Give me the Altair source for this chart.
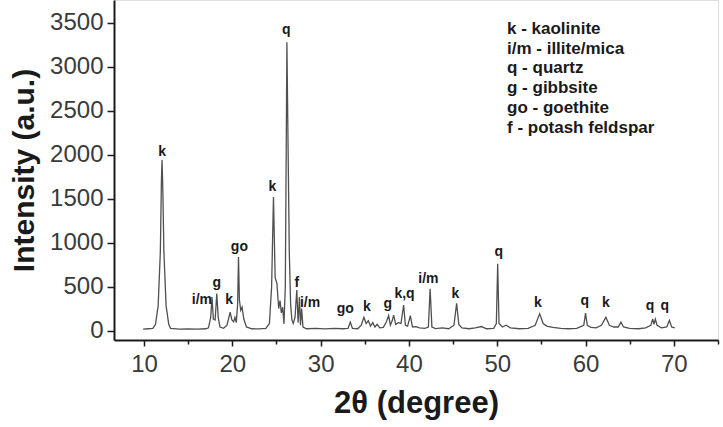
import altair as alt
import pandas as pd

# XRD pattern: 2-theta positions (degrees) and measured intensity (a.u.)
two_theta = [
    9.9, 10.5, 11.0, 11.3, 11.6, 11.85, 11.97, 12.04, 12.12, 12.25, 12.5, 12.8,
    13.0, 14.0, 15.0, 16.0, 17.0, 17.3, 17.55, 17.7, 17.85, 18.05, 18.24, 18.4,
    18.6, 19.0, 19.4, 19.75, 19.95, 20.15, 20.3, 20.45, 20.6, 20.7, 20.8, 20.95,
    21.1, 21.3, 21.6, 22.2, 23.0, 23.8, 24.2, 24.45, 24.66, 24.85, 25.05, 25.25,
    25.4, 25.55, 25.7, 25.85, 26.0, 26.1, 26.18, 26.3, 26.45, 26.6, 26.75, 26.9,
    27.1, 27.3, 27.45, 27.6, 27.72, 27.85, 28.0, 28.4, 29.5, 30.5, 31.5, 32.5,
    33.1, 33.36, 33.6, 34.2, 34.6, 34.9, 35.15, 35.4, 35.65, 35.9, 36.15, 36.4,
    36.7, 37.1, 37.45, 37.7, 37.9, 38.1, 38.27, 38.5, 38.8, 39.1, 39.4, 39.6,
    39.85, 40.16, 40.4, 40.8, 41.2, 41.8, 42.2, 42.4, 42.6, 43.0, 43.8, 44.5,
    45.1, 45.4, 45.65, 46.0, 46.8, 47.5, 48.2, 48.8, 49.6, 49.9, 50.05, 50.2,
    50.6, 51.0, 51.5, 52.5, 53.5, 54.3, 54.8, 55.2, 55.6, 56.3, 57.2, 58.0,
    59.0, 59.8, 60.0, 60.2, 60.6, 61.2, 61.8, 62.3, 62.7, 63.2, 63.7, 64.0,
    64.3, 65.0, 66.0, 66.8, 67.4, 67.6, 67.75, 67.9, 68.1, 68.6, 69.2, 69.5,
    69.75, 70.1,
]
intensity = [
    15, 20, 25, 70, 280, 900, 1700, 1940, 1650, 900, 280, 70,
    25, 15, 18, 15, 20, 30, 150, 380, 130, 120, 420, 150,
    40, 25, 60, 210, 120, 100, 150, 90, 300, 835, 350, 230,
    265, 130, 40, 20, 18, 25, 80, 500, 1520, 600, 535, 250,
    340, 200, 265, 76, 500, 2000, 3280, 2200, 900, 300, 120, 80,
    150, 460, 90, 380, 60, 250, 40, 20, 25, 18, 25, 20,
    25, 95, 25, 20, 60, 150, 80, 110, 50, 90, 40, 70,
    30, 35, 100, 170, 60, 110, 175, 70, 90, 80, 290, 60,
    50, 170, 40, 45, 30, 25, 40, 475, 40, 22, 30, 20,
    60, 310, 70, 30, 20, 30, 45, 20, 25, 80, 760, 80,
    40, 60, 30, 20, 25, 60, 190, 80, 50, 35, 25, 20,
    25, 60, 197, 60, 35, 30, 60, 150, 60, 40, 40, 95,
    40, 25, 20, 30, 60, 133, 70, 130, 60, 30, 40, 115,
    40, 30,
]

# Phase labels placed above their peaks
peak_labels = ["k", "i/m", "g", "k", "go", "k", "q", "f", "i/m", "go", "k", "g",
               "k,q", "i/m", "k", "q", "k", "q", "k", "q", "q"]
label_theta = [12.04, 16.55, 18.24, 19.64, 20.8, 24.55, 26.1, 27.3, 28.8, 32.8,
               35.25, 37.6, 39.5, 42.2, 45.26, 50.17, 54.6, 59.9, 62.3, 67.3, 68.96]
label_height = [2030, 342, 536, 342, 950, 1634, 3420, 536, 311, 240,
                266, 296, 418, 590, 410, 893, 311, 334, 311, 274, 274]

# Key to the phase abbreviations
phase_key = ["k - kaolinite", "i/m - illite/mica", "q - quartz",
             "g - gibbsite", "go - goethite", "f - potash feldspar"]

x_ticks = [10, 15, 20, 25, 30, 35, 40, 45, 50, 55, 60, 65, 70, 75]
y_ticks = [0, 250, 500, 750, 1000, 1250, 1500, 1750, 2000, 2250, 2500,
           2750, 3000, 3250, 3500, 3750]

FONT = "Liberation Sans"

pattern = pd.DataFrame({"theta": two_theta, "intensity": intensity})
labels = pd.DataFrame({"theta": label_theta, "intensity": label_height,
                       "text": peak_labels})
key = pd.DataFrame({"text": [phase_key]})

x_scale = alt.Scale(domain=[6.6, 75], nice=False, zero=False)
y_scale = alt.Scale(domain=[-108, 3760], nice=False, zero=False)

x_axis = alt.Axis(
    title="2θ (degree)",
    values=x_ticks,
    labelExpr="datum.value % 10 === 0 ? datum.label : ''",
    tickSize={"condition": {"test": "datum.value % 10 === 0", "value": 6}, "value": 4},
    labelFontSize=24, labelFont=FONT, labelColor="#3a3a3a", labelPadding=6,
    titleFontSize=31, titleFont=FONT, titleFontWeight="bold", titleColor="#1a1a1a",
    titlePadding=12,
    grid=False, domainColor="#1a1a1a", domainWidth=2, tickColor="#1a1a1a",
    tickWidth=1.5, labelFlush=False,
)
y_axis = alt.Axis(
    title="Intensity (a.u.)",
    values=y_ticks,
    labelExpr="datum.value % 500 === 0 ? datum.label : ''",
    tickSize={"condition": {"test": "datum.value % 500 === 0", "value": 7}, "value": 4},
    labelFontSize=24, labelFont=FONT, labelColor="#3a3a3a", labelPadding=4,
    titleFontSize=30, titleFont=FONT, titleFontWeight="bold", titleColor="#1a1a1a",
    titlePadding=10,
    grid=False, domainColor="#1a1a1a", domainWidth=2, tickColor="#1a1a1a",
    tickWidth=1.5, labelFlush=False, format="d",
)

line = alt.Chart(pattern).mark_line(color="#505050", strokeWidth=1.3).encode(
    x=alt.X("theta:Q", scale=x_scale, axis=x_axis),
    y=alt.Y("intensity:Q", scale=y_scale, axis=y_axis),
)

text = alt.Chart(labels).mark_text(
    font=FONT, fontSize=14, fontWeight="bold", color="#1a1a1a", baseline="middle"
).encode(
    x=alt.X("theta:Q", scale=x_scale),
    y=alt.Y("intensity:Q", scale=y_scale),
    text="text:N",
)

key_text = alt.Chart(key).mark_text(
    font=FONT, fontSize=17, fontWeight="bold", color="#1a1a1a",
    align="left", baseline="top", lineHeight=19.7,
).encode(x=alt.value(393), y=alt.value(21), text="text")

chart = alt.layer(line, text, key_text).properties(
    width=604, height=340,
    autosize=alt.AutoSizeParams(type="none"),
    padding={"left": 114, "right": 5, "top": 0, "bottom": 87},
).configure_view(stroke=None).configure(background="white")

chart.save("out.html", embed_options={"renderer": "svg", "actions": False})
